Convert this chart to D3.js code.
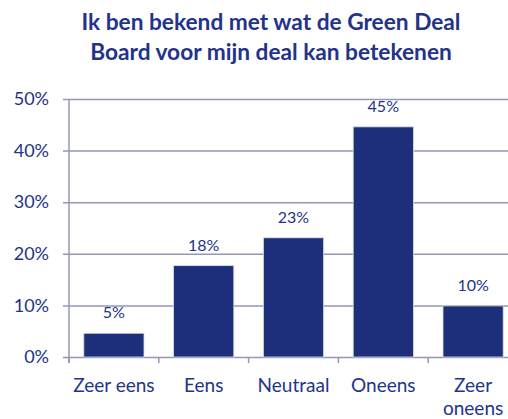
<!DOCTYPE html>
<html>
<head>
<meta charset="utf-8">
<script src="https://cdn.jsdelivr.net/npm/d3@7"></script>
<style>
  html, body { margin: 0; padding: 0; background: #fff; }
  svg { display: block; }
</style>
</head>
<body>
<svg id="chart"></svg>
<script>
'use strict';

// ── data ─────────────────────────────────────────────
const titleLines = ['Ik ben bekend met wat de Green Deal', 'Board voor mijn deal kan betekenen'];
const categories = ['Zeer eens', 'Eens', 'Neutraal', 'Oneens', 'Zeer oneens'];
const values = [0.046, 0.177, 0.231, 0.446, 0.099];
const yTicks = [0, 0.1, 0.2, 0.3, 0.4, 0.5];

// ── look ─────────────────────────────────────────────
const W = 508, H = 419;
const FONT = 'Lato, "Open Sans", sans-serif';
const TEXT = '#23338a';
const BAR = '#1d2f7b';
const GRID = '#9597b3';

const margin = { top: 99, right: -10, bottom: 62, left: 69 };

const svg = d3.select('#chart').attr('width', W).attr('height', H);

const x = d3.scaleBand()
  .domain(categories)
  .range([margin.left, W - margin.right])
  .paddingInner(0.33)
  .paddingOuter(0.165);

const y = d3.scaleLinear()
  .domain([0, 0.5])
  .range([H - margin.bottom, margin.top]);

// title
svg.append('text')
  .attr('x', 271)
  .attr('y', 30)
  .attr('text-anchor', 'middle')
  .attr('font-family', FONT)
  .attr('font-weight', 700)
  .attr('font-size', 22.7)
  .attr('fill', TEXT)
  .selectAll('tspan')
  .data(titleLines)
  .join('tspan')
  .attr('x', 271)
  .attr('dy', (d, i) => i === 0 ? 0 : 30)
  .text(d => d);

// gridlines + y labels
const yAxis = d3.axisLeft(y)
  .tickValues(yTicks)
  .tickFormat(d3.format('.0%'))
  .tickSize(-(W - margin.left + 6));

const gy = svg.append('g')
  .attr('transform', `translate(${margin.left},0)`)
  .call(yAxis);
gy.select('.domain').remove();
gy.selectAll('.tick line')
  .attr('x1', -6)
  .attr('x2', W - margin.left)
  .attr('stroke', GRID)
  .attr('stroke-width', 1.5);
gy.selectAll('.tick text')
  .attr('font-family', FONT)
  .attr('font-size', 18)
  .attr('fill', TEXT)
  .attr('x', -20);

// y axis line
svg.append('line')
  .attr('x1', margin.left).attr('x2', margin.left)
  .attr('y1', y(0.5)).attr('y2', y(0) + 6)
  .attr('stroke', GRID)
  .attr('stroke-width', 1.5);

// x ticks at band boundaries
const step = x.step();
svg.append('g')
  .selectAll('line')
  .data(d3.range(categories.length + 1))
  .join('line')
  .attr('x1', i => margin.left + i * step)
  .attr('x2', i => margin.left + i * step)
  .attr('y1', y(0))
  .attr('y2', y(0) + 6)
  .attr('stroke', GRID)
  .attr('stroke-width', 1.5);

// bars
svg.append('g')
  .selectAll('rect')
  .data(values)
  .join('rect')
  .attr('x', (d, i) => x(categories[i]))
  .attr('width', x.bandwidth())
  .attr('y', d => y(d))
  .attr('height', d => y(0) - y(d))
  .attr('fill', BAR)
  .attr('stroke', '#d6d9e8')
  .attr('stroke-width', 0.8);

// value labels
svg.append('g')
  .selectAll('text')
  .data(values)
  .join('text')
  .attr('x', (d, i) => x(categories[i]) + x.bandwidth() / 2)
  .attr('y', d => y(d) - 15)
  .attr('text-anchor', 'middle')
  .attr('font-family', FONT)
  .attr('font-size', 16)
  .attr('fill', TEXT)
  .text(d => d3.format('.0%')(d));

// category labels (wrap long ones)
const catG = svg.append('g')
  .selectAll('text')
  .data(categories)
  .join('text')
  .attr('x', d => x(d) + x.bandwidth() / 2)
  .attr('y', y(0) + 35)
  .attr('text-anchor', 'middle')
  .attr('font-family', FONT)
  .attr('font-size', 19)
  .attr('fill', TEXT);

catG.each(function (d) {
  const lines = d === 'Zeer oneens' ? ['Zeer', 'oneens'] : [d];
  d3.select(this).selectAll('tspan')
    .data(lines)
    .join('tspan')
    .attr('x', x(d) + x.bandwidth() / 2)
    .attr('dy', (l, i) => i === 0 ? 0 : 23)
    .text(l => l);
});
</script>
</body>
</html>
